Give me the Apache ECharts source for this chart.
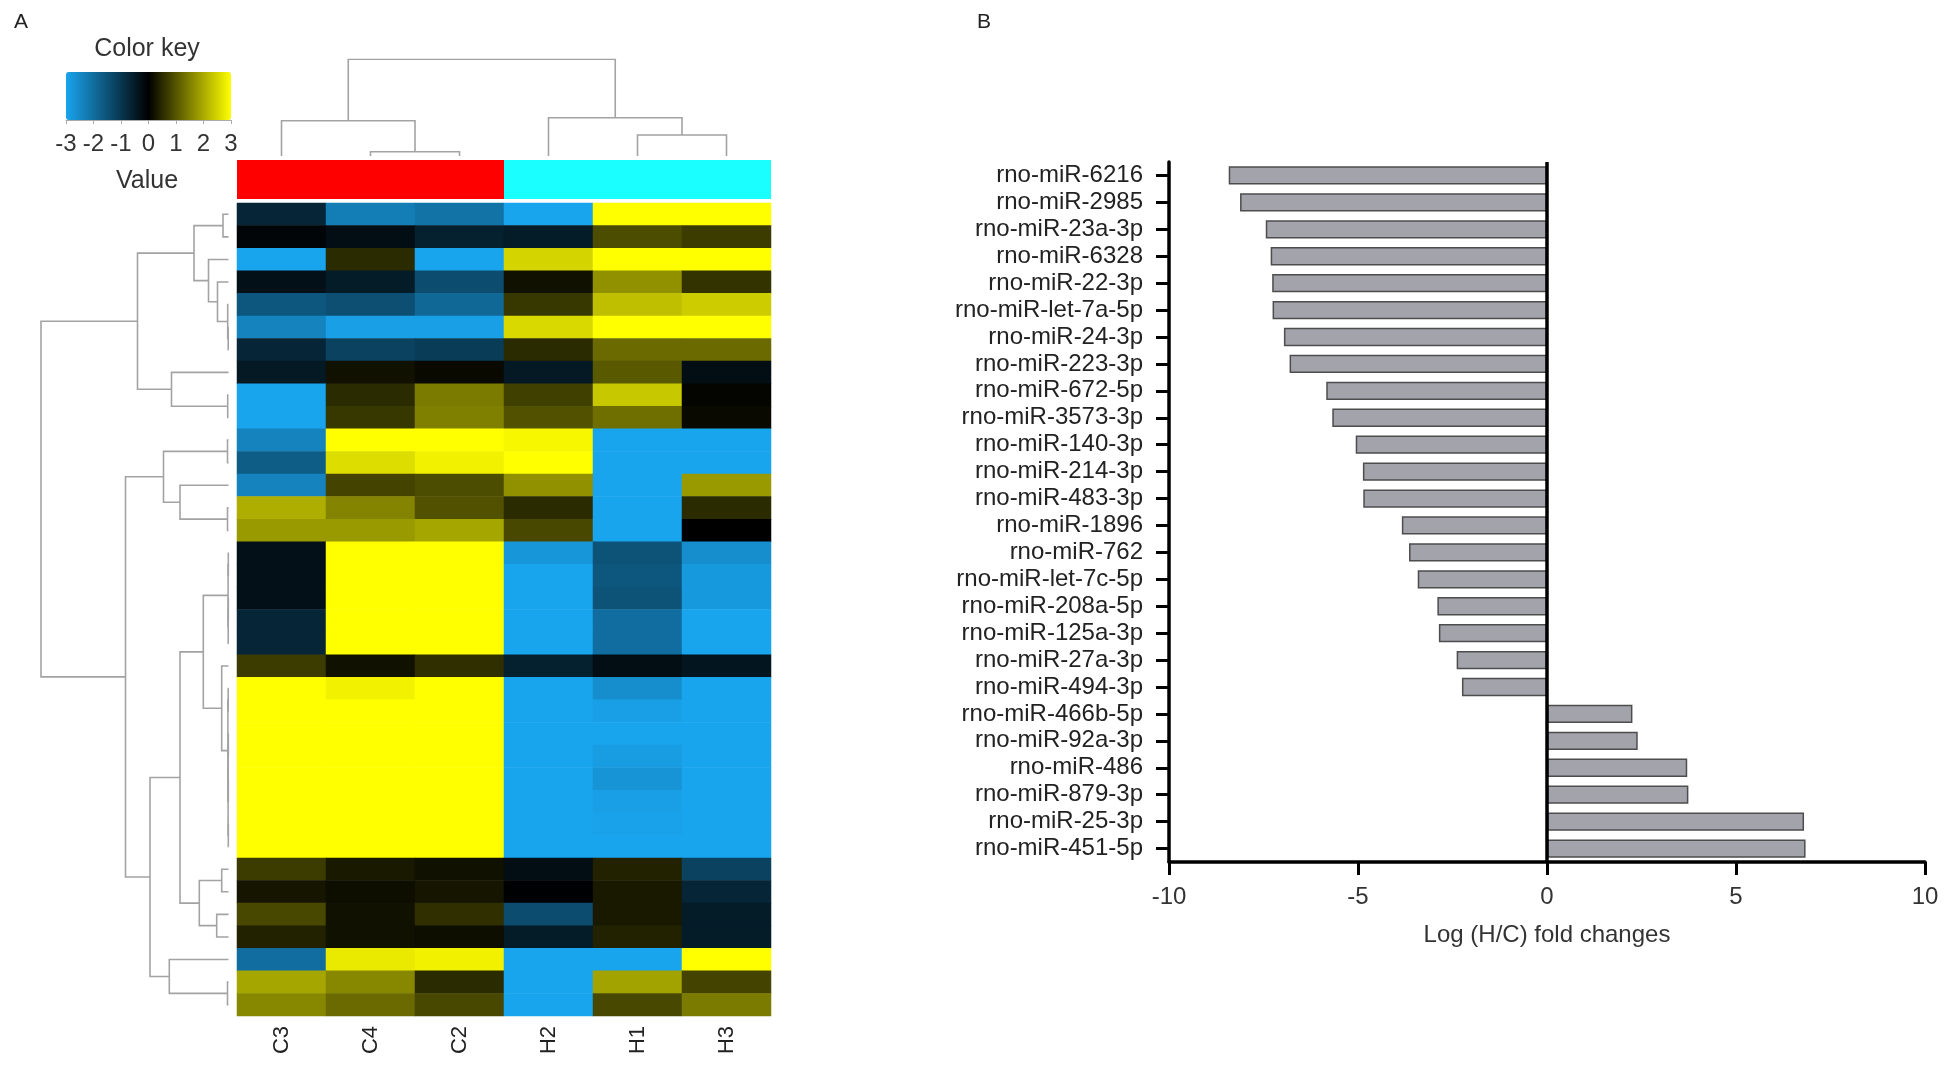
<!DOCTYPE html>
<html>
<head>
<meta charset="utf-8">
<title>Heatmap and fold changes</title>
<script src="https://cdn.jsdelivr.net/npm/echarts@6/dist/echarts.min.js"></script>
<style>
  html, body { margin: 0; padding: 0; background: #fff; }
  #chart { width: 1947px; height: 1067px; }
</style>
</head>
<body>
<div id="chart"></div>
<script>
var myChart = echarts.init(document.getElementById('chart'));

// ---------------- panel A data ----------------
var sampleNames = ['C3', 'C4', 'C2', 'H2', 'H1', 'H3'];
var groupColors = ['#ff0000', '#ff0000', '#ff0000', '#1affff', '#1affff', '#1affff'];
var keyTicks = [-3, -2, -1, 0, 1, 2, 3];

// rows top to bottom, columns in sampleNames order
var heatValues = [
	[-0.7, -2.3, -2.1, -3, 3, 3],
	[-0.1, -0.25, -0.6, -0.5, 0.9, 0.7],
	[-3, 0.5, -3, 2.5, 3, 3],
	[-0.3, -0.5, -1.4, 0.2, 1.7, 0.6],
	[-1.6, -1.45, -1.9, 0.65, 2.25, 2.4],
	[-2.4, -2.9, -2.9, 2.55, 3, 3],
	[-0.7, -1.2, -1.1, 0.5, 1.25, 1.25],
	[-0.45, 0.2, 0.1, -0.45, 1.05, -0.25],
	[-3, 0.5, 1.45, 0.75, 2.35, 0.05],
	[-3, 0.65, 1.5, 0.95, 1.3, 0.1],
	[-2.4, 3, 3, 2.9, -3, -3],
	[-1.7, 2.6, 2.85, 3, -3, -3],
	[-2.4, 0.8, 0.9, 1.7, -3, 1.8],
	[2.05, 1.55, 0.95, 0.5, -3, 0.5],
	[1.8, 1.8, 1.95, 0.85, -3, 0],
	[-0.3, 3, 3, -2.75, -1.5, -2.6],
	[-0.3, 3, 3, -3, -1.6, -2.8],
	[-0.3, 3, 3, -3, -1.5, -2.8],
	[-0.7, 3, 3, -3, -2.0, -3],
	[-0.7, 3, 3, -3, -2.0, -3],
	[0.7, 0.2, 0.55, -0.6, -0.25, -0.4],
	[3, 2.85, 3, -3, -2.6, -3],
	[3, 3, 3, -3, -2.9, -3],
	[3, 3, 3, -3, -3, -3],
	[3, 3, 3, -3, -2.85, -3],
	[3, 3, 3, -3, -2.7, -3],
	[3, 3, 3, -3, -2.9, -3],
	[3, 3, 3, -3, -2.95, -3],
	[3, 3, 3, -3, -3, -3],
	[0.7, 0.3, 0.2, -0.25, 0.4, -1.2],
	[0.25, 0.15, 0.25, -0.02, 0.3, -0.7],
	[0.85, 0.2, 0.55, -1.4, 0.3, -0.5],
	[0.4, 0.2, 0.15, -0.5, 0.4, -0.5],
	[-2.0, 2.75, 2.85, -3, -3, 3],
	[1.95, 1.6, 0.5, -3, 1.9, 0.8],
	[1.6, 1.25, 0.85, -3, 0.85, 1.45]
];

// dendrogram merges: [id, left, right, height]; numbers are leaf indexes
var colMerges = [
	['c42', 1, 2, 4.3],
	['c', 0, 'c42', 35.3],
	['h13', 4, 5, 21],
	['h', 3, 'h13', 38.3],
	['root', 'c', 'h', 96.7]
];

var rowMerges = [
	['a01', 0, 1, 5.5],
	['d56', 5, 6, 0.3],
	['d', 4, 'd56', 0.8],
	['c', 3, 'd', 11],
	['b', 2, 'c', 20],
	['a', 'a01', 'b', 34.5],
	['e', 8, 9, 0.8],
	['e2', 7, 'e', 57],
	['f', 'a', 'e2', 91],
	['h1011', 10, 11, 1],
	['h1314', 13, 14, 1],
	['j', 12, 'h1314', 48.5],
	['h', 'h1011', 'j', 65],
	['k1', 15, 16, 0.2],
	['k2', 17, 18, 0.2],
	['k3', 'k2', 19, 0.3],
	['k', 'k1', 'k3', 0.4],
	['q1', 21, 22, 0.3],
	['q2', 23, 24, 0.2],
	['q3', 25, 26, 0.2],
	['q4', 27, 28, 0.2],
	['q5', 'q2', 'q3', 0.3],
	['q6', 'q5', 'q4', 0.4],
	['q', 'q1', 'q6', 0.6],
	['o', 20, 'q', 6.8],
	['n', 'k', 'o', 25.2],
	['a1', 29, 30, 6.8],
	['a2', 31, 32, 11.8],
	['aa', 'a1', 'a2', 29.2],
	['l', 'n', 'aa', 48.5],
	['m1', 34, 35, 1],
	['m', 33, 'm1', 59.2],
	['i', 'l', 'm', 78.5],
	['g', 'h', 'i', 103],
	['root', 'f', 'g', 187.5]
];

// ---------------- panel B data ----------------
var mirNames = [
	'rno-miR-6216', 'rno-miR-2985', 'rno-miR-23a-3p', 'rno-miR-6328', 'rno-miR-22-3p',
	'rno-miR-let-7a-5p', 'rno-miR-24-3p', 'rno-miR-223-3p', 'rno-miR-672-5p', 'rno-miR-3573-3p',
	'rno-miR-140-3p', 'rno-miR-214-3p', 'rno-miR-483-3p', 'rno-miR-1896', 'rno-miR-762',
	'rno-miR-let-7c-5p', 'rno-miR-208a-5p', 'rno-miR-125a-3p', 'rno-miR-27a-3p', 'rno-miR-494-3p',
	'rno-miR-466b-5p', 'rno-miR-92a-3p', 'rno-miR-486', 'rno-miR-879-3p', 'rno-miR-25-3p',
	'rno-miR-451-5p'
];
var foldChanges = [
	-8.42, -8.12, -7.44, -7.31, -7.27,
	-7.26, -6.96, -6.81, -5.84, -5.68,
	-5.06, -4.87, -4.86, -3.84, -3.65,
	-3.42, -2.9, -2.86, -2.39, -2.25,
	2.26, 2.4, 3.71, 3.74, 6.8,
	6.84
];
var foldTicks = [-10, -5, 0, 5, 10];

//**********************************************************************
var FONT = 'Liberation Sans, Arial, sans-serif';
var DENDRO = '#a3a3a3';

function dendroSegments(merges, swap) {
	var pos = {};
	var hgt = {};
	function p(k) { return typeof k === 'number' ? k + 0.5 : pos[k]; }
	function h(k) { return typeof k === 'number' ? 0 : hgt[k]; }
	var segs = [];
	merges.forEach(function (m) {
		var pa = p(m[1]), pb = p(m[2]), ht = m[3];
		pos[m[0]] = (pa + pb) / 2;
		hgt[m[0]] = ht;
		var pts = [[pa, h(m[1])], [pa, ht], [pb, ht], [pb, h(m[2])]];
		if (swap) {
			pts = pts.map(function (q) { return [q[1], q[0]]; });
		}
		segs.push({ coords: pts });
	});
	return segs;
}

var heatData = [];
for (var r = 0; r < heatValues.length; r++) {
	for (var c = 0; c < sampleNames.length; c++) {
		heatData.push([c, r, heatValues[r][c]]);
	}
}

var rowIds = heatValues.map(function (v, i) { return i; });

var option = {
	animation: false,
	backgroundColor: '#fff',
	textStyle: { fontFamily: FONT },
	graphic: [
		{ type: 'text', left: 14, top: 12, style: { text: 'A', font: '21px ' + FONT, fill: '#222' } },
		{ type: 'text', left: 977, top: 12, style: { text: 'B', font: '21px ' + FONT, fill: '#222' } },
		{ type: 'text', x: 147, y: 49, style: { text: 'Color key', font: '25px ' + FONT, fill: '#333', textAlign: 'center', textVerticalAlign: 'middle' } },
		{ type: 'text', x: 147, y: 181, style: { text: 'Value', font: '25px ' + FONT, fill: '#333', textAlign: 'center', textVerticalAlign: 'middle' } }
	],
	visualMap: {
		type: 'continuous',
		seriesIndex: 0,
		min: -3,
		max: 3,
		orient: 'horizontal',
		left: 66,
		top: 72,
		itemWidth: 48,
		itemHeight: 165,
		padding: 0,
		calculable: false,
		hoverLink: false,
		inRange: { color: ['#19a4ee', '#000000', '#ffff00'] }
	},
	grid: [
		{ left: 237, top: 203, width: 534, height: 813 },
		{ left: 237, top: 160, width: 534, height: 39 },
		{ left: 237, top: 59.3, width: 534, height: 96.7 },
		{ left: 41, top: 203, width: 187.5, height: 813 },
		{ left: 66, top: 72, width: 165, height: 48 },
		{ left: 1169, top: 162, width: 756, height: 700 }
	],
	xAxis: [
		{
			gridIndex: 0, type: 'category', data: sampleNames,
			axisLine: { show: false }, axisTick: { show: false }, splitLine: { show: false },
			axisLabel: { rotate: 90, margin: 10, fontSize: 22, color: '#222', fontFamily: FONT }
		},
		{ gridIndex: 1, type: 'category', data: sampleNames, show: false },
		{ gridIndex: 2, type: 'value', min: 0, max: sampleNames.length, show: false },
		{ gridIndex: 3, type: 'value', min: 0, max: 187.5, inverse: true, show: false },
		{
			gridIndex: 4, type: 'value', min: keyTicks[0], max: keyTicks[keyTicks.length - 1], interval: 1,
			axisLine: { show: true, onZero: false, lineStyle: { color: '#aaa', width: 1 } },
			axisTick: { show: true, length: 4, lineStyle: { color: '#aaa' } },
			splitLine: { show: false },
			axisLabel: { margin: 12, fontSize: 24, color: '#333', fontFamily: FONT }
		},
		{
			gridIndex: 5, type: 'value', min: foldTicks[0], max: foldTicks[foldTicks.length - 1], interval: 5,
			name: 'Log (H/C) fold changes', nameLocation: 'middle', nameGap: 61,
			nameTextStyle: { fontSize: 24, color: '#333', fontFamily: FONT },
			axisLine: { show: true, onZero: false, lineStyle: { color: '#000', width: 3.5 } },
			axisTick: { show: true, length: 13, lineStyle: { color: '#000', width: 3 } },
			splitLine: { show: false },
			axisLabel: { margin: 23, fontSize: 24, color: '#333', fontFamily: FONT }
		}
	],
	yAxis: [
		{ gridIndex: 0, type: 'category', data: rowIds, inverse: true, show: false },
		{ gridIndex: 1, type: 'value', min: 0, max: 1, show: false },
		{ gridIndex: 2, type: 'value', min: 0, max: 96.7, show: false },
		{ gridIndex: 3, type: 'value', min: 0, max: heatValues.length, inverse: true, show: false },
		{ gridIndex: 4, type: 'value', min: 0, max: 1, show: false },
		{
			gridIndex: 5, type: 'category', data: mirNames, inverse: true,
			axisLine: { show: true, onZero: false, lineStyle: { color: '#000', width: 3.5 } },
			axisTick: { show: true, alignWithLabel: true, length: 13, lineStyle: { color: '#000', width: 3 } },
			axisLabel: { interval: 0, hideOverlap: false, margin: 26, fontSize: 24, color: '#222', fontFamily: FONT }
		}
	],
	series: [
		{
			type: 'heatmap',
			xAxisIndex: 0,
			yAxisIndex: 0,
			data: heatData,
			silent: true,
			progressive: 0,
			itemStyle: { borderWidth: 0 }
		},
		{
			type: 'bar',
			xAxisIndex: 1,
			yAxisIndex: 1,
			barCategoryGap: '0%',
			silent: true,
			data: groupColors.map(function (col) {
				return { value: 1, itemStyle: { color: col } };
			})
		},
		{
			type: 'lines',
			coordinateSystem: 'cartesian2d',
			xAxisIndex: 2,
			yAxisIndex: 2,
			polyline: true,
			silent: true,
			lineStyle: { color: DENDRO, width: 1.6, opacity: 1 },
			data: dendroSegments(colMerges, false)
		},
		{
			type: 'lines',
			coordinateSystem: 'cartesian2d',
			xAxisIndex: 3,
			yAxisIndex: 3,
			polyline: true,
			silent: true,
			lineStyle: { color: DENDRO, width: 1.6, opacity: 1 },
			data: dendroSegments(rowMerges, true)
		},
		{
			type: 'scatter',
			xAxisIndex: 4,
			yAxisIndex: 4,
			data: []
		},
		{
			name: 'Log (H/C) fold changes',
			type: 'bar',
			xAxisIndex: 5,
			yAxisIndex: 5,
			barCategoryGap: '32%',
			silent: true,
			itemStyle: { color: '#a3a3ab', borderColor: '#4d4d4d', borderWidth: 1.5 },
			data: foldChanges,
			markLine: {
				silent: true,
				symbol: ['none', 'none'],
				label: { show: false },
				lineStyle: { color: '#000', width: 3.5, type: 'solid' },
				data: [{ xAxis: 0 }]
			}
		}
	]
};

myChart.setOption(option);
</script>
</body>
</html>
